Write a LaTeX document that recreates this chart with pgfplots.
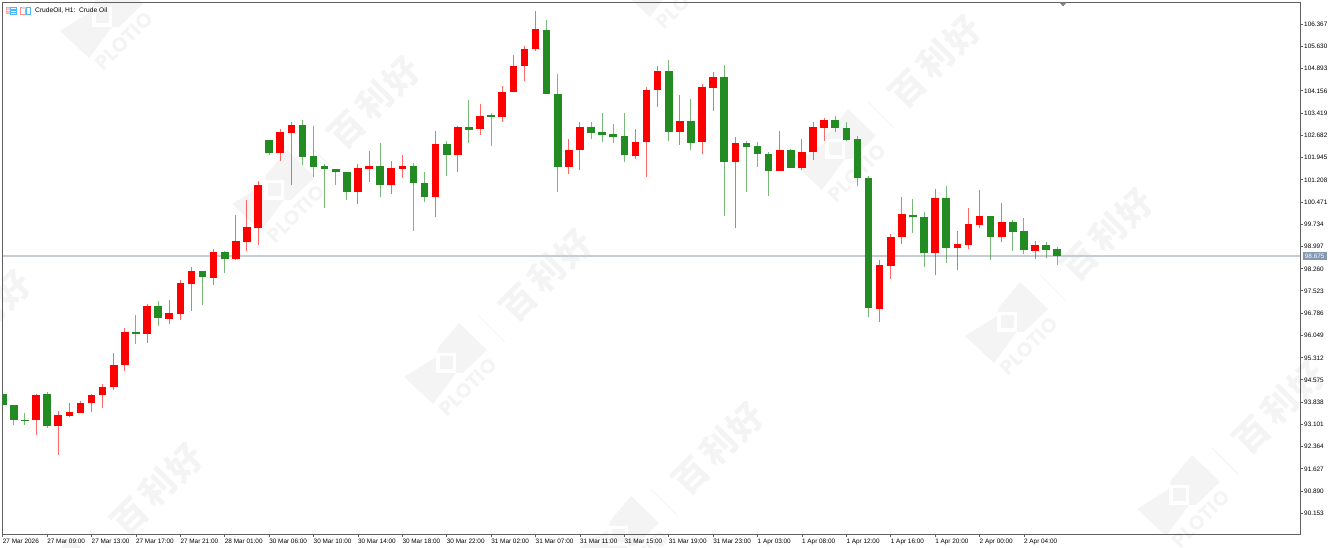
\documentclass[border=0pt]{standalone}
\usepackage{fontspec}
\setmainfont{Liberation Sans}
\newfontfamily\wmlatin{Poppins}
\newfontfamily\wmcjk{Noto Sans CJK SC}
\usepackage{pgfplots}
\usepackage{pgfplotstable}
\pgfplotsset{compat=1.18}

\definecolor{candlered}{HTML}{FF0000}
\definecolor{candlegreen}{HTML}{228B22}
\definecolor{frameclr}{HTML}{606060}
\definecolor{bidline}{HTML}{C6CCD1}
\definecolor{pricetag}{HTML}{8497B0}
\definecolor{wmgray}{HTML}{F4F4F4}

% red candles: index, high, low, body top, body bottom
\pgfplotstableread{
i hi lo top bot
3 94.10 92.74 94.06 93.23
5 93.53 92.09 93.39 93.04
6 93.79 93.33 93.49 93.38
7 93.86 93.46 93.81 93.48
8 94.09 93.52 94.06 93.79
9 94.42 93.63 94.34 94.06
10 95.45 94.23 95.07 94.32
11 96.28 94.85 96.16 95.06
13 97.10 95.80 97.03 96.10
15 97.22 96.41 96.78 96.60
16 97.87 96.55 97.77 96.76
17 98.32 96.85 98.18 97.76
19 98.90 97.73 98.80 97.96
21 100.02 98.54 99.17 98.57
22 100.53 98.83 99.63 99.14
23 101.16 99.05 101.03 99.62
25 102.88 101.84 102.78 102.08
26 103.13 101.04 103.01 102.77
32 101.73 100.40 101.58 100.81
33 102.16 101.13 101.67 101.55
35 101.82 100.74 101.58 101.04
36 102.03 101.27 101.67 101.57
39 102.83 99.96 102.39 100.64
41 102.99 101.47 102.96 102.04
43 103.70 102.69 103.33 102.89
45 104.32 103.13 104.11 103.27
46 105.34 104.10 104.96 104.10
47 105.64 104.48 105.54 104.98
48 106.81 105.48 106.19 105.55
51 102.54 101.41 102.18 101.64
52 103.13 101.54 102.96 102.19
57 102.88 101.89 102.44 101.98
58 104.29 101.30 104.18 102.44
59 104.98 103.63 104.80 104.18
61 104.00 102.35 103.14 102.79
63 104.37 102.07 104.27 102.44
64 104.77 103.49 104.60 104.26
66 102.62 99.60 102.43 101.80
70 102.81 101.49 102.18 101.51
72 102.56 101.53 102.14 101.58
73 103.12 101.86 102.96 102.12
74 103.26 102.50 103.17 102.93
79 98.54 96.49 98.37 96.92
80 99.40 97.93 99.31 98.33
81 100.62 99.07 100.06 99.30
84 100.89 98.05 100.59 98.78
86 99.52 98.20 99.06 98.95
87 100.26 98.91 99.73 99.04
88 100.85 99.60 99.99 99.71
90 100.42 99.14 99.81 99.30
93 99.17 98.58 99.03 98.85
}\redT

% green candles
\pgfplotstableread{
i hi lo top bot
0 94.11 93.73 94.11 93.73
1 93.75 93.09 93.75 93.23
2 93.46 93.06 93.24 93.21
4 94.18 92.99 94.09 93.05
12 96.73 95.77 96.16 96.10
14 97.20 96.37 97.03 96.63
18 98.18 97.05 98.18 97.98
20 98.84 98.11 98.80 98.57
24 102.51 102.04 102.51 102.08
27 103.17 101.70 103.03 101.97
28 102.99 101.28 101.98 101.64
29 101.73 100.28 101.65 101.55
30 101.56 101.03 101.56 101.46
31 101.47 100.53 101.47 100.81
34 102.41 100.64 101.67 101.04
37 101.75 99.51 101.67 101.09
38 101.45 100.48 101.10 100.64
40 102.48 101.32 102.39 102.04
42 103.85 102.43 102.96 102.86
44 103.41 102.32 103.34 103.28
49 106.51 104.04 106.16 104.04
50 104.71 100.81 104.04 101.64
53 103.11 102.56 102.96 102.77
54 103.41 102.46 102.78 102.68
55 103.04 102.41 102.71 102.63
56 103.41 101.79 102.64 102.01
60 105.17 102.50 104.80 102.79
62 103.87 102.19 103.14 102.42
65 105.01 100.00 104.61 101.80
67 102.49 100.80 102.41 102.30
68 102.46 101.62 102.32 102.06
69 102.14 100.68 102.07 101.49
71 102.21 101.58 102.18 101.59
75 103.32 102.79 103.17 102.93
76 103.11 102.50 102.92 102.53
77 102.64 101.01 102.54 101.25
78 101.33 96.64 101.26 96.94
82 100.58 99.43 100.05 99.96
83 100.14 98.30 99.96 98.78
85 100.99 98.43 100.59 98.95
89 99.99 98.56 99.99 99.30
91 99.86 98.83 99.81 99.48
92 99.94 98.74 99.52 98.89
94 99.15 98.62 99.03 98.89
95 98.98 98.38 98.90 98.675
}\greenT

% one watermark: logo square centred on (#1,#2), rule and brand text up and to the right
\newcommand{\wmunit}[2]{%
  \begin{scope}[shift={(#1,#2)}]
    \fill[wmgray] (13,-40) -- (41,-13) -- (17,10) -- (10,10) -- (-13,41) -- (-42,14) -- (-10,-6) -- (-8,-15) -- cycle;
    \fill[white] (-10,-10) rectangle (10,10);
    \fill[wmgray] (-6.5,-6.5) rectangle (6.5,6.5);
    \node[rotate=45, text=wmgray, font={\wmlatin\bfseries\fontsize{20}{20}\selectfont}] at (22,24) {PLOTIO};
    \draw[wmgray, line width=1pt] (33,-47) -- (59,-21);
    \node[rotate=45, text=wmgray, font={\wmcjk\bfseries\fontsize{35}{35}\selectfont}] at (73,-60) {百};
    \node[rotate=45, text=wmgray, font={\wmcjk\bfseries\fontsize{35}{35}\selectfont}] at (100,-89) {利};
    \node[rotate=45, text=wmgray, font={\wmcjk\bfseries\fontsize{35}{35}\selectfont}] at (128,-114) {好};
  \end{scope}%
}

\begin{document}
\begin{tikzpicture}
% image pixels as coordinates: plot box is (2.5,2.5)--(1300,534.5)
\begin{scope}[x=1pt, y=-1pt, shift={(-2.5pt,534.5pt)}]
  \path[use as bounding box] (0,0) rectangle (1331,548);
  \wmunit{102}{17}
  \wmunit{274}{190}
  \wmunit{446}{363}
  \wmunit{618}{536}
  \wmunit{663}{-24}
  \wmunit{835}{149}
  \wmunit{1007}{322}
  \wmunit{1179}{495}
  \wmunit{57}{577}
  \wmunit{-115}{404}
\end{scope}

\begin{axis}[
    scale only axis,
    width=1297.5pt,
    height=532pt,
    xmin=-0.018, xmax=116.874,
    ymin=89.445, ymax=107.08,
    axis line style={draw=frameclr, line width=0.9pt},
    tick style={draw=frameclr, line width=0.7pt},
    tick align=outside,
    major tick length=3pt,
    xtick pos=bottom,
    ytick pos=right,
    yticklabel pos=right,
    xtick={0,4,...,92},
    xticklabels={27 Mar 2026,27 Mar 09:00,27 Mar 13:00,27 Mar 17:00,27 Mar 21:00,28 Mar 01:00,30 Mar 06:00,30 Mar 10:00,30 Mar 14:00,30 Mar 18:00,30 Mar 22:00,31 Mar 02:00,31 Mar 07:00,31 Mar 11:00,31 Mar 15:00,31 Mar 19:00,31 Mar 23:00,1 Apr 03:00,1 Apr 08:00,1 Apr 12:00,1 Apr 16:00,1 Apr 20:00,2 Apr 00:00,2 Apr 04:00},
    ytick={90.153,90.890,91.627,92.364,93.101,93.838,94.575,95.312,96.049,96.786,97.523,98.260,98.997,99.734,100.471,101.208,101.945,102.682,103.419,104.156,104.893,105.630,106.367},
    tick label style={font=\fontsize{6.4}{7}\selectfont, inner sep=0pt, text=black},
    xticklabel style={anchor=north west, xshift=0pt, yshift=-1pt},
    yticklabel style={/pgf/number format/fixed, /pgf/number format/fixed zerofill, /pgf/number format/precision=3, /pgf/number format/1000 sep={}, /pgf/number format/assume math mode=true, anchor=west, xshift=1pt, yshift=-0.3pt},
]
% bid line
\addplot[bidline, line width=1.3pt, forget plot] coordinates {(-0.018,98.675) (116.874,98.675)};

% wicks
\addplot[draw=none, mark=none, forget plot,
    error bars/.cd, y dir=plus, y explicit, error mark=none,
    error bar style={candlered, line width=1pt, opacity=0.6}]
    table[x=i, y=lo, y error plus expr=\thisrow{hi}-\thisrow{lo}] {\redT};
\addplot[draw=none, mark=none, forget plot,
    error bars/.cd, y dir=plus, y explicit, error mark=none,
    error bar style={candlegreen, line width=1pt, opacity=0.6}]
    table[x=i, y=lo, y error plus expr=\thisrow{hi}-\thisrow{lo}] {\greenT};

% bodies
\addplot[draw=none, mark=none, forget plot,
    error bars/.cd, y dir=plus, y explicit, error mark=none,
    error bar style={candlered, line width=7.6pt}]
    table[x=i, y=bot, y error plus expr=\thisrow{top}-\thisrow{bot}] {\redT};
\addplot[draw=none, mark=none, forget plot,
    error bars/.cd, y dir=plus, y explicit, error mark=none,
    error bar style={candlegreen, line width=7.6pt}]
    table[x=i, y=bot, y error plus expr=\thisrow{top}-\thisrow{bot}] {\greenT};
\end{axis}

\begin{scope}[x=1pt, y=-1pt, shift={(-2.5pt,534.5pt)}]
  % chart shift marker
  \fill[gray] (1059.5,2.5) -- (1066.5,2.5) -- (1063,6.5) -- cycle;
  % current price tag
  \fill[pricetag] (1302.7,252.3) rectangle (1326.7,260);
  \node[text=white, inner sep=0pt, font=\fontsize{6.4}{7}\selectfont] at (1314.7,256.2) {98.675};
  % title bar icons
  \fill[red!35] (6,7) rectangle (10.5,14);
  \fill[white] (6.9,8.6) rectangle (9.6,9.3) (6.9,10.2) rectangle (9.6,10.9) (6.9,11.8) rectangle (9.6,12.5);
  \draw[blue!40!cyan!70, line width=0.5pt] (10.5,7.2) rectangle (16.5,13.8);
  \draw[blue!40!cyan!70, line width=0.5pt] (10.5,9) -- (16.5,9) (10.5,10.6) -- (16.5,10.6) (10.5,12.2) -- (16.5,12.2);
  \draw[red!45, line width=0.7pt] (20.4,7) rectangle (25.5,14);
  \fill[gray!30] (22,6.6) rectangle (27,8.6);
  \draw[blue!40!cyan!70, line width=0.7pt] (26,7.2) rectangle (30.6,14);
  \node[anchor=west, inner sep=0pt, font=\fontsize{6.65}{7}\selectfont] at (35,10.3) {CrudeOil, H1:\ \ Crude Oil};
\end{scope}
\end{tikzpicture}
\end{document}
